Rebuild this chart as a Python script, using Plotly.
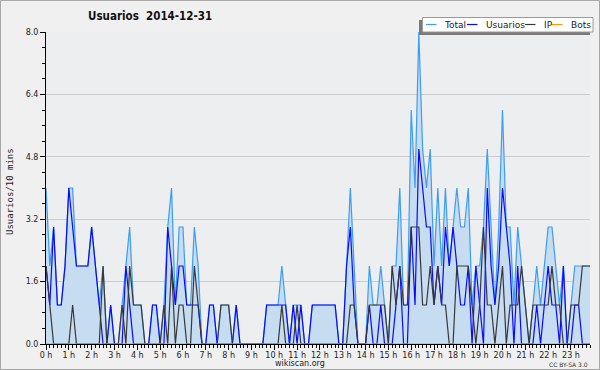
import plotly.graph_objects as go

# ---- data (10-minute slots, 144 per day) ----
total = [4,2,3,1,1,2,4,4,2,2, 2,2,3,2,1,2,0,1,0,0,
         1,2,3,1,1,1,0,0,1,1, 0,1,3,4,1,3,3,1,1,3,
         2,0,0,1,1,0,1,1,1,0, 1,0,0,0,0,0,0,0,1,1,
         1,1,2,1,0,1,1,1,0,0, 1,1,1,1,1,1,1,0,0,2,
         4,2,0,0,0,2,1,1,2,1, 0,2,2,4,1,1,6,4,8,5,
         4,5,2,4,2,4,2,3,4,3, 3,4,1,2,2,3,5,3,1,3,
         6,3,3,1,3,2,1,0,1,2, 1,2,3,3,2,1,2,0,1,2,
         2,2,2,2]
usuarios = [2,1,3,1,1,2,4,3,2,2, 2,2,3,2,1,0,0,1,0,0,
            0,2,1,0,0,0,0,0,1,1, 0,0,3,2,1,2,2,1,1,1,
            1,0,0,1,1,0,0,0,0,0, 1,0,0,0,0,0,0,0,1,1,
            1,1,1,1,0,1,0,1,0,0, 1,1,1,1,1,1,1,0,0,2,
            3,1,0,0,0,1,0,0,1,0, 0,0,1,2,0,0,3,1,5,4,
            3,3,1,2,1,3,2,3,2,1, 1,2,0,2,1,0,4,2,1,2,
            4,3,2,0,2,0,0,0,0,1, 0,1,2,1,1,0,2,0,0,1,
            1,0,0,0]
ip = [2,1,0,0,0,0,0,1,0,0, 0,0,0,0,0,2,0,0,0,0,
      1,0,2,1,1,1,0,0,0,0, 0,1,0,2,0,1,1,0,0,2,
      1,0,0,0,0,0,1,1,1,0, 0,0,0,0,0,0,0,0,0,0,
      0,0,1,0,0,0,1,0,0,0, 0,0,0,0,0,0,0,0,0,0,
      1,1,0,0,0,1,1,1,1,1, 0,2,1,2,1,1,3,3,3,1,
      1,2,1,2,1,1,0,0,2,2, 2,2,1,0,1,3,1,1,0,1,
      2,0,1,1,1,2,1,0,1,1, 1,1,1,2,1,1,0,0,1,1,
      1,2,2,2]
bots = [0] * 144

hour_labels = [f"{h} h" for h in range(24)]
y_ticks = [0.0, 1.6, 3.2, 4.8, 6.4, 8.0]

slots = list(range(len(total)))
hour_pos = [h * 6 for h in range(len(hour_labels))]

C_TOTAL = "#3d9df2"
C_USU = "#0a0aff"
C_IP = "#383838"
C_BOTS = "#ff9900"

fig = go.Figure()
fig.add_trace(go.Scatter(x=slots, y=total, mode="lines", name="Total",
                         line=dict(color=C_TOTAL, width=1.2),
                         fill="tozeroy", fillcolor="#c6dcf0"))
fig.add_trace(go.Scatter(x=slots, y=usuarios, mode="lines", name="Usuarios",
                         line=dict(color=C_USU, width=1.2)))
fig.add_trace(go.Scatter(x=slots, y=ip, mode="lines", name="IP",
                         line=dict(color=C_IP, width=1.2)))
fig.add_trace(go.Scatter(x=slots, y=bots, mode="lines", name="Bots",
                         line=dict(color=C_BOTS, width=1.2)))

L, R, T, B = 46, 10, 32, 26
W, H = 600, 370
PW, PH = W - L - R, H - T - B


def px(x):
    return (x - L) / PW


def py(y):
    return (H - B - y) / PH


tick_font = dict(family="DejaVu Sans", size=8, color="#222")

fig.update_layout(
    template="none",
    width=W, height=H,
    margin=dict(l=L, r=R, t=T, b=B, pad=0, autoexpand=False),
    paper_bgcolor="#f0f0f0",
    plot_bgcolor="#edeef0",
    showlegend=False,
    xaxis=dict(range=[0, len(total) - 1], showgrid=False, zeroline=False,
               automargin=False,
               showline=True, linecolor="black", linewidth=1,
               ticks="outside", ticklen=5, tickcolor="black", tickwidth=1,
               tickmode="array", tickvals=hour_pos, ticktext=hour_labels,
               tickfont=tick_font, tickangle=0, ticklabelstandoff=-2,
               minor=dict(dtick=1, tick0=0, ticks="outside", ticklen=3,
                          tickcolor="black", showgrid=False),
               fixedrange=True),
    yaxis=dict(range=[0, 8], showgrid=True, gridcolor="#cccccc", gridwidth=1,
               zeroline=False, automargin=False,
               showline=True, linecolor="black", linewidth=1,
               ticks="outside", ticklen=5, tickcolor="black", tickwidth=1,
               tickmode="array", tickvals=y_ticks,
               ticktext=[f"{v:.1f}" for v in y_ticks], tickfont=tick_font,
               minor=dict(dtick=0.4, tick0=0, ticks="outside", ticklen=3,
                          tickcolor="black", showgrid=False),
               fixedrange=True),
)

annotations = [
    dict(text="<b>Usuarios\u00a0\u00a02014-12-31</b>", x=px(150), y=py(16.5),
         xref="paper", yref="paper", xanchor="center", yanchor="middle",
         showarrow=False,
         font=dict(family="DejaVu Sans Condensed, Liberation Sans, sans-serif",
                   size=11.5, color="#111")),
    dict(text="Usuarios/10 mins", x=px(10), y=py(192), xref="paper", yref="paper",
         xanchor="center", yanchor="middle", textangle=-90, showarrow=False,
         font=dict(family="DejaVu Sans Mono", size=9, color="#222")),
    dict(text="wikiscan.org", x=px(300), y=py(363.5), xref="paper", yref="paper",
         xanchor="center", yanchor="middle", showarrow=False,
         font=dict(family="DejaVu Sans", size=8, color="#222")),
    dict(text="CC BY-SA 3.0", x=px(590), y=py(364), xref="paper", yref="paper",
         xanchor="right", yanchor="middle", showarrow=False,
         font=dict(family="DejaVu Sans", size=6, color="#333")),
]

shapes = [
    # outer border
    dict(type="rect", xref="paper", yref="paper", x0=px(0.5), x1=px(599.5),
         y0=py(369.5), y1=py(0.5), line=dict(color="#a8a8a8", width=1),
         fillcolor="rgba(0,0,0,0)", layer="above"),
    # legend shadow
    dict(type="rect", xref="paper", yref="paper", x0=px(419), x1=px(590),
         y0=py(35), y1=py(20), line=dict(width=0), fillcolor="#7a7a7a",
         layer="above"),
    # legend box
    dict(type="rect", xref="paper", yref="paper", x0=px(422.5), x1=px(593),
         y0=py(32), y1=py(17.5), line=dict(color="#9a9a9a", width=1),
         fillcolor="#ffffff", layer="above"),
]

legend_items = [("Total", C_TOTAL, 426, 442), ("Usuarios", C_USU, 467, 484),
                ("IP", C_IP, 525, 541.5), ("Bots", C_BOTS, 552, 568.5)]
for name, col, lx, tx in legend_items:
    shapes.append(dict(type="line", xref="paper", yref="paper",
                       x0=px(lx), x1=px(lx + 10.5), y0=py(24.5), y1=py(24.5),
                       line=dict(color=col, width=1.2), layer="above"))
    annotations.append(dict(text=name, x=px(tx), y=py(24.5), xref="paper",
                            yref="paper", xanchor="left", yanchor="middle",
                            showarrow=False,
                            font=dict(family="DejaVu Sans", size=9, color="#222")))

fig.update_layout(annotations=annotations, shapes=shapes)
fig.write_html("out.html",
               config={"displayModeBar": False},
               post_script="document.body.style.margin='0';"
                           "document.body.style.padding='0';")
